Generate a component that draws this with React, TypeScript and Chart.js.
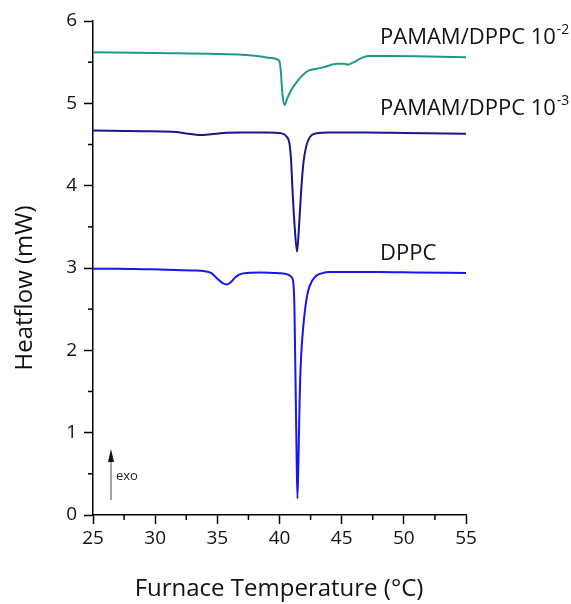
import React, { useEffect, useRef } from "react";
import { Chart, registerables } from "chart.js";

Chart.register(...registerables);

// Temperatures (°C) and heat-flow values (mW)
const dppcT = [25, 27, 29, 31, 33, 34, 34.5, 35.0, 35.4, 35.76, 36.1, 36.4, 36.75, 37.4, 38.5, 39.5, 40.2, 40.58, 40.85, 41.01, 41.12, 41.2, 41.28, 41.36, 41.44, 41.53, 41.62, 41.73, 41.92, 42.1, 42.3, 42.6, 43.0, 43.4, 44, 48, 51, 55];
const dppcV = [2.99, 2.99, 2.985, 2.98, 2.97, 2.96, 2.94, 2.87, 2.82, 2.8, 2.83, 2.88, 2.92, 2.94, 2.945, 2.94, 2.935, 2.925, 2.905, 2.88, 2.81, 2.53, 1.72, 0.9, 0.2, 0.7, 1.4, 1.9, 2.3, 2.55, 2.72, 2.84, 2.91, 2.935, 2.95, 2.95, 2.945, 2.94];

const p3T = [25, 29, 31.4, 32.5, 33.6, 34.5, 35.5, 37, 39, 40.18, 40.58, 40.8, 40.93, 41.06, 41.22, 41.41, 41.57, 41.73, 41.92, 42.14, 42.46, 42.99, 44, 47, 50, 55];
const p3V = [4.67, 4.66, 4.655, 4.635, 4.615, 4.625, 4.64, 4.645, 4.645, 4.635, 4.595, 4.514, 4.312, 3.907, 3.502, 3.198, 3.502, 3.907, 4.27, 4.474, 4.595, 4.636, 4.645, 4.645, 4.64, 4.63];

const p2T = [25, 30, 35, 37, 38.5, 39.3, 39.97, 40.1, 40.24, 40.42, 40.6, 40.9, 41.44, 42.24, 43.0, 43.58, 44.65, 45.2, 45.5, 46.0, 46.6, 47.1, 49, 52, 55];
const p2V = [5.62, 5.61, 5.6, 5.59, 5.57, 5.55, 5.52, 5.4, 5.11, 4.98, 5.05, 5.15, 5.27, 5.39, 5.42, 5.44, 5.48, 5.48, 5.47, 5.5, 5.55, 5.575, 5.575, 5.57, 5.56];

const xTicks = [25, 30, 35, 40, 45, 50, 55];
const yTicks = [0, 1, 2, 3, 4, 5, 6];

const seriesNames = ["PAMAM/DPPC 10", "PAMAM/DPPC 10", "DPPC"];
const seriesExp = ["-2", "-3", ""];
const labelAnchors = [
  { x: 380, y: 44 },
  { x: 380, y: 115 },
  { x: 380, y: 260 },
];
const colors = ["#1f978d", "#17178a", "#1616ee"];

const FONT = "'Open Sans', 'Noto Sans', sans-serif";

function pts(t: number[], v: number[]) {
  return t.map((x, i) => ({ x, y: v[i] }));
}

const decorPlugin = {
  id: "decor",
  afterDraw(chart: any) {
    const ctx = chart.ctx;
    const xs = chart.scales.x;
    const ys = chart.scales.y;
    const area = chart.chartArea;
    ctx.save();
    // minor ticks
    ctx.strokeStyle = "#000";
    ctx.lineWidth = 1.5;
    for (let t = 27.5; t < 55; t += 5) {
      const px = xs.getPixelForValue(t);
      ctx.beginPath();
      ctx.moveTo(px, area.bottom);
      ctx.lineTo(px, area.bottom + 5);
      ctx.stroke();
    }
    for (let v = 0.5; v < 6; v += 1) {
      const py = ys.getPixelForValue(v);
      ctx.beginPath();
      ctx.moveTo(area.left, py);
      ctx.lineTo(area.left - 5, py);
      ctx.stroke();
    }
    // series labels
    ctx.fillStyle = "#111";
    ctx.textBaseline = "alphabetic";
    ctx.textAlign = "left";
    seriesNames.forEach((name, i) => {
      const a = labelAnchors[i];
      ctx.font = `22px ${FONT}`;
      ctx.fillText(name, a.x, a.y);
      if (seriesExp[i]) {
        const w = ctx.measureText(name).width;
        ctx.font = `14px ${FONT}`;
        ctx.fillText(seriesExp[i], a.x + w + 1, a.y - 10);
      }
    });
    // axis titles
    ctx.font = `24px ${FONT}`;
    ctx.textAlign = "center";
    ctx.textBaseline = "alphabetic";
    ctx.fillText("Furnace Temperature (°C)", 279, 596);
    ctx.save();
    ctx.translate(32, 288);
    ctx.rotate(-Math.PI / 2);
    ctx.fillText("Heatflow (mW)", 0, 0);
    ctx.restore();
    // exo arrow
    ctx.strokeStyle = "#666";
    ctx.fillStyle = "#111";
    ctx.lineWidth = 1.2;
    ctx.beginPath();
    ctx.moveTo(111, 500);
    ctx.lineTo(111, 458);
    ctx.stroke();
    ctx.beginPath();
    ctx.moveTo(111, 449);
    ctx.lineTo(108, 462);
    ctx.lineTo(114, 462);
    ctx.closePath();
    ctx.fill();
    ctx.fillStyle = "#222";
    ctx.font = `13px ${FONT}`;
    ctx.textAlign = "left";
    ctx.fillText("exo", 116, 480);
    ctx.restore();
  },
};

export default function App() {
  const ref = useRef<HTMLCanvasElement | null>(null);
  useEffect(() => {
    if (!ref.current) return;
    const mk = (label: string, t: number[], v: number[], c: string) => ({
      label,
      data: pts(t, v),
      borderColor: c,
      backgroundColor: c,
      borderWidth: 2,
      pointRadius: 0,
      cubicInterpolationMode: "monotone" as const,
      fill: false,
    });
    const chart = new Chart(ref.current, {
      type: "line",
      data: {
        datasets: [
          mk("PAMAM/DPPC 10^-2", p2T, p2V, colors[0]),
          mk("PAMAM/DPPC 10^-3", p3T, p3V, colors[1]),
          mk("DPPC", dppcT, dppcV, colors[2]),
        ],
      },
      options: {
        animation: false,
        responsive: true,
        maintainAspectRatio: false,
        layout: { padding: { top: 21, right: 105, left: 0, bottom: 0 } },
        plugins: { legend: { display: false }, tooltip: { enabled: false } },
        scales: {
          x: {
            type: "linear",
            min: 25,
            max: 55,
            afterBuildTicks: (s: any) => {
              s.ticks = xTicks.map((v) => ({ value: v }));
            },
            afterFit: (s: any) => {
              s.height = 89;
            },
            ticks: {
              color: "#111",
              font: { size: 19, family: FONT },
              padding: 3,
              maxRotation: 0,
              autoSkip: false,
            },
            grid: {
              drawOnChartArea: false,
              drawTicks: true,
              tickLength: 9,
              tickColor: "#000",
              tickWidth: 1.5,
            },
            border: { display: true, color: "#000", width: 1.5 },
          },
          y: {
            type: "linear",
            min: 0,
            max: 6,
            afterBuildTicks: (s: any) => {
              s.ticks = yTicks.map((v) => ({ value: v }));
            },
            afterFit: (s: any) => {
              s.width = 93;
            },
            ticks: {
              color: "#111",
              font: { size: 19, family: FONT },
              padding: 7,
              autoSkip: false,
            },
            grid: {
              drawOnChartArea: false,
              drawTicks: true,
              tickLength: 9,
              tickColor: "#000",
              tickWidth: 1.5,
            },
            border: { display: true, color: "#000", width: 1.5 },
          },
        },
      },
      plugins: [decorPlugin],
    });
    return () => chart.destroy();
  }, []);
  return (
    <div style={{ position: "absolute", left: 0, top: 0, width: 571, height: 604, background: "#fff" }}>
      <canvas ref={ref} />
    </div>
  );
}
